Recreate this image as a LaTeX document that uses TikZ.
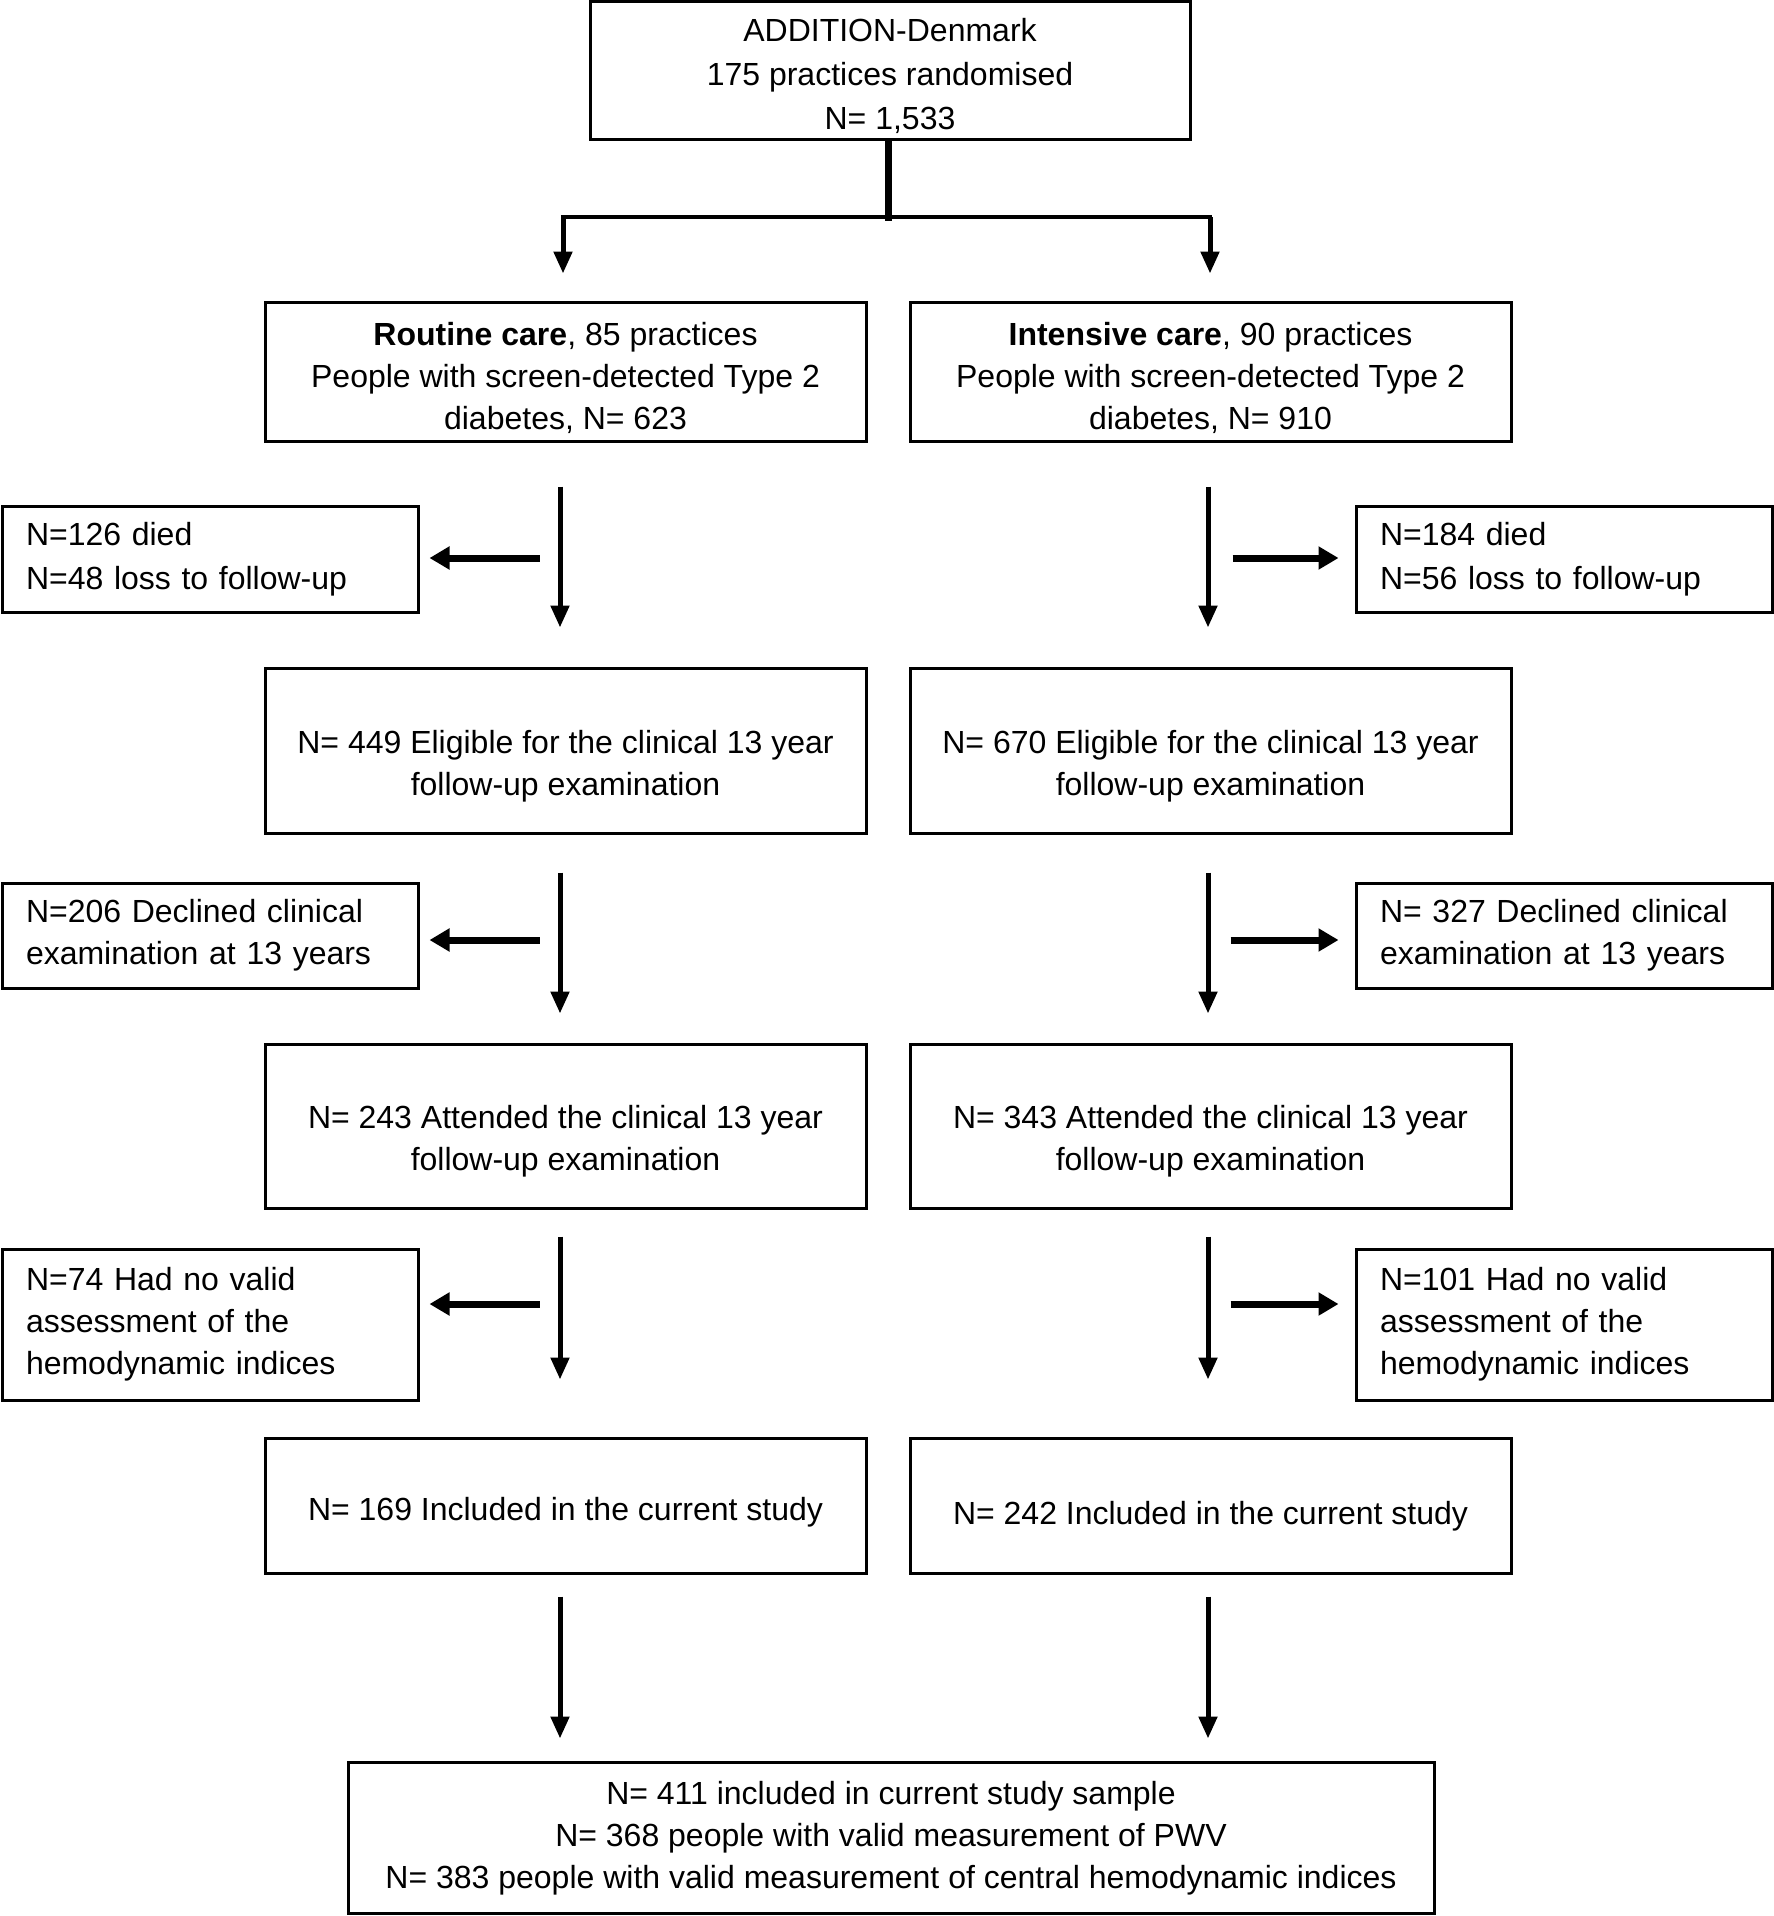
\documentclass[tikz,border=0pt]{standalone}
\usepackage{fontspec}
\setmainfont{Liberation Sans}
\usetikzlibrary{arrows.meta,calc}
\begin{document}
\begin{tikzpicture}[x=1pt,y=-1pt,
 box/.style={draw,line width=3pt,minimum width=601pt,inner sep=0pt},
 txt/.style={align=center,inner sep=0pt,font=\fontsize{32}{42}\selectfont},
 side/.style={draw,line width=3pt,text width=368pt,inner xsep=24pt,inner ysep=0pt,align=left,font=\fontsize{32}{42}\selectfont},
 varr/.style={line width=5pt,-{Triangle[length=22pt,width=18pt]}},
 harr/.style={line width=7pt,-{Triangle[length=20pt,width=22pt]}}]
\useasboundingbox (0,0) rectangle (1773,1916);

% main boxes
\node[box,minimum width=600pt,minimum height=138pt] (top) at (890,71) {};
\node[box,minimum height=139pt] (rcL) at (565.5,371.5) {};
\node[box,minimum height=139pt] (rcR) at (1210.5,371.5) {};
\node[box,minimum height=165pt] (elL) at (565.5,750.5) {};
\node[box,minimum height=165pt] (elR) at (1210.5,750.5) {};
\node[box,minimum height=164pt] (atL) at (565.5,1126) {};
\node[box,minimum height=164pt] (atR) at (1210.5,1126) {};
\node[box,minimum height=135pt] (inL) at (565.5,1505.5) {};
\node[box,minimum height=135pt] (inR) at (1210.5,1505.5) {};
\node[box,minimum width=1086pt,minimum height=151pt] (fin) at (891,1837.5) {};

% texts of main boxes
\node[txt,font=\fontsize{32}{44}\selectfont] (topT) at ($(top)+(0,5)$) {ADDITION-Denmark\\175 practices randomised\\N= 1,533};
\node[txt] (rcLT) at ($(rcL)+(0,6)$) {\textbf{Routine care}, 85 practices\\People with screen-detected Type 2\\diabetes, N= 623};
\node[txt] (rcRT) at ($(rcR)+(0,6)$) {\textbf{Intensive care}, 90 practices\\People with screen-detected Type 2\\diabetes, N= 910};
\node[txt] (elLT) at ($(elL)+(0,16)$) {N= 449 Eligible for the clinical 13 year\\follow-up examination};
\node[txt] (elRT) at ($(elR)+(0,16)$) {N= 670 Eligible for the clinical 13 year\\follow-up examination};
\node[txt] (atLT) at ($(atL)+(0,15)$) {N= 243 Attended the clinical 13 year\\follow-up examination};
\node[txt] (atRT) at ($(atR)+(0,15)$) {N= 343 Attended the clinical 13 year\\follow-up examination};
\node[txt] (inLT) at ($(inL)+(0,7)$) {N= 169 Included in the current study};
\node[txt] (inRT) at ($(inR)+(0,11)$) {N= 242 Included in the current study};
\node[txt] (finT) at ($(fin)+(0,1)$) {N= 411 included in current study sample\\N= 368 people with valid measurement of PWV\\N= 383 people with valid measurement of central hemodynamic indices};

% side nodes
\node[side,minimum height=106pt,font=\fontsize{32}{44}\selectfont] (s1L) at (210,559) {N=126 died\\N=48 loss to follow-up};
\node[side,minimum height=106pt,font=\fontsize{32}{44}\selectfont] (s1R) at (1564,559) {N=184 died\\N=56 loss to follow-up};
\node[side,minimum height=105pt] (s2L) at (210,935.5) {N=206 Declined clinical\\examination at 13 years};
\node[side,minimum height=105pt] (s2R) at (1564,935.5) {N= 327 Declined clinical\\examination at 13 years};
\node[side,minimum height=151pt] (s3L) at (210,1324.5) {N=74 Had no valid\\assessment of the\\hemodynamic indices};
\node[side,minimum height=151pt] (s3R) at (1564,1324.5) {N=101 Had no valid\\assessment of the\\hemodynamic indices};

% split from top
\coordinate (split) at ($(top.south)+(-2,77)$);
\coordinate (brL) at (563,217);
\coordinate (brR) at (1210,217);
\draw[line width=7pt] ($(top.south)+(-2,0)$) -- ($(split)+(0,2)$);
\draw[line width=4.5pt] ($(brL)+(-2.25,0)$) -- ($(brR)+(2.25,0)$);
\draw[varr] (brL) -- ($(rcL.north)+(-2.5,-27)$);
\draw[varr] (brR) -- ($(rcR.north)+(-0.5,-27)$);

% vertical arrows left
\draw[varr] ($(rcL.south)+(-5.5,44)$) -- ($(elL.north)+(-5.5,-39)$);
\draw[varr] ($(elL.south)+(-5.5,38)$) -- ($(atL.north)+(-5.5,-29)$);
\draw[varr] ($(atL.south)+(-5.5,27)$) -- ($(inL.north)+(-5.5,-57)$);
\draw[varr] ($(inL.south)+(-5.5,22)$) -- ($(fin.north)+(-331,-22)$);
% vertical arrows right
\draw[varr] ($(rcR.south)+(-2.5,44)$) -- ($(elR.north)+(-2.5,-39)$);
\draw[varr] ($(elR.south)+(-2.5,38)$) -- ($(atR.north)+(-2.5,-29)$);
\draw[varr] ($(atR.south)+(-2.5,27)$) -- ($(inR.north)+(-2.5,-57)$);
\draw[varr] ($(inR.south)+(-2.5,22)$) -- ($(fin.north)+(317,-22)$);

% horizontal arrows
\draw[harr] ($(s1L.east)+(120,-1)$) -- ($(s1L.east)+(10,-1)$);
\draw[harr] ($(s1R.west)+(-122,-1)$) -- ($(s1R.west)+(-16,-1)$);
\draw[harr] ($(s2L.east)+(120,4.5)$) -- ($(s2L.east)+(10,4.5)$);
\draw[harr] ($(s2R.west)+(-124,4.5)$) -- ($(s2R.west)+(-16,4.5)$);
\draw[harr] ($(s3L.east)+(120,-20.5)$) -- ($(s3L.east)+(10,-20.5)$);
\draw[harr] ($(s3R.west)+(-124,-20.5)$) -- ($(s3R.west)+(-16,-20.5)$);
\end{tikzpicture}
\end{document}
